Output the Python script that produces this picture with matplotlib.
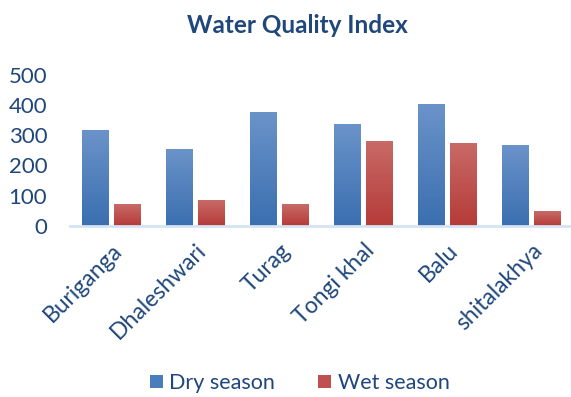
import numpy as np
import matplotlib.pyplot as plt
from matplotlib.colors import LinearSegmentedColormap

rivers = ["Buriganga", "Dhaleshwari", "Turag", "Tongi khal", "Balu", "shitalakhya"]
dry_season = [317, 254, 376, 337, 403, 267]
wet_season = [72, 85, 72, 280, 274, 49]

text_col = "#1F477B"
plt.rcParams['font.family'] = ['Lato', 'DejaVu Sans']

fig = plt.figure(figsize=(5.71, 3.97), dpi=100)
ax = fig.add_axes([69.5 / 571, 0.4315, 1 - 69.5 / 571, 0.3796])

x = np.arange(len(rivers))
w = 0.32
off = 0.19


# vertical gradient fill clipped to each bar
def shade(bars, top_col, bot_col):
    cmap = LinearSegmentedColormap.from_list("g", [bot_col, top_col])
    grad = np.linspace(0, 1, 100).reshape(-1, 1)
    for b in bars:
        x0, y0 = b.get_x(), b.get_y()
        im = ax.imshow(grad, cmap=cmap, aspect='auto', origin='lower',
                       extent=[x0, x0 + b.get_width(), y0, y0 + b.get_height()],
                       zorder=2)
        im.set_clip_path(b)


b1 = ax.bar(x - off, dry_season, w, color="#4A7EBB", label="Dry season", zorder=1)
b2 = ax.bar(x + off, wet_season, w, color="#C0504D", label="Wet season", zorder=1)
shade(b1, "#6A93C9", "#3B6FB0")
shade(b2, "#C86A67", "#B53B38")

ax.set_xlim(-0.5, 5.47)
ax.set_ylim(0, 500)
ax.set_yticks(range(0, 501, 100))
for s in ['top', 'right', 'left']:
    ax.spines[s].set_visible(False)
ax.spines['bottom'].set_color("#D5E3F3")
ax.spines['bottom'].set_linewidth(2)
ax.tick_params(length=0)
ax.tick_params(axis='y', labelsize=16, labelcolor=text_col, pad=16)
ax.set_xticks(x)
ax.set_xticklabels(rivers, rotation=45, ha='right', rotation_mode='anchor',
                   fontsize=16.5, color=text_col)
ax.tick_params(axis='x', pad=10)

fig.text(0.52, 0.935, "Water Quality Index", ha='center', va='center',
         fontsize=17.5, fontweight='bold', color=text_col)

leg = fig.legend(loc='center', bbox_to_anchor=(0.525, 0.035), ncol=2, frameon=False,
                 fontsize=15.5, handlelength=0.6, handleheight=0.6,
                 columnspacing=2.0, handletextpad=0.3)
for t in leg.get_texts():
    t.set_color(text_col)

plt.savefig("out.png", dpi=100)
